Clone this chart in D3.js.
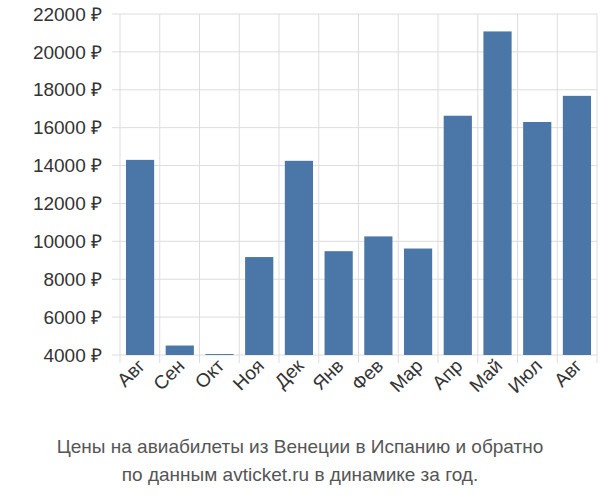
<!DOCTYPE html>
<html><head><meta charset="utf-8">
<script src="https://cdn.jsdelivr.net/npm/d3@7"></script>
<style>body{margin:0;background:#fff}</style></head>
<body><svg id="c" width="600" height="500"></svg>
<script>
const categories = ["Авг","Сен","Окт","Ноя","Дек","Янв","Фев","Мар","Апр","Май","Июл","Авг"];
const values = [14300,4500,4050,9170,14250,9480,10260,9620,16630,21080,16300,17680];
const yTicks = [4000,6000,8000,10000,12000,14000,16000,18000,20000,22000];
const titleLines = ["Цены на авиабилеты из Венеции в Испанию и обратно","по данным avticket.ru в динамике за год."];

const svg = d3.select("#c");
const L=120,R=597,T=14,B=355;
const x = d3.scaleBand().domain(d3.range(categories.length)).range([L,R]).paddingInner(0.29).paddingOuter(0.15);
const y = d3.scaleLinear().domain([4000,22000]).range([B,T]);
const font="Liberation Sans, Arial, sans-serif";
const g=svg.append("g");
// grid
g.selectAll("line.h").data(yTicks).join("line").attr("x1",L-8).attr("x2",R).attr("y1",d=>y(d)).attr("y2",d=>y(d)).attr("stroke","#ddd");
const step=x.step();
const vx=d3.range(categories.length+1).map(i=>L+i*(R-L)/categories.length);
g.selectAll("line.v").data(vx).join("line").attr("x1",d=>d).attr("x2",d=>d).attr("y1",T).attr("y2",B+8).attr("stroke","#ddd");
// bars
g.selectAll("rect").data(values).join("rect").attr("x",(d,i)=>x(i)).attr("width",x.bandwidth())
 .attr("y",d=>y(d)).attr("height",d=>B-y(d)).attr("fill","#4a76a8");
// y labels
g.selectAll("text.y").data(yTicks).join("text").attr("x",L-18).attr("y",d=>y(d)).attr("dy","0.35em")
 .attr("text-anchor","end").attr("font-family",font).attr("font-size",19).attr("fill","#333").text(d=>d+" ₽");
// x labels
g.selectAll("text.x").data(categories).join("text")
 .attr("transform",(d,i)=>`translate(${x(i)+x.bandwidth()/2+6},${B+12}) rotate(-45)`)
 .attr("text-anchor","end").attr("font-family",font).attr("font-size",19).attr("fill","#333").text(d=>d);
// title
svg.selectAll("text.t").data(titleLines).join("text").attr("x",300).attr("y",(d,i)=>453+i*28)
 .attr("text-anchor","middle").attr("font-family",font).attr("font-size",19).attr("fill","#555").text(d=>d);
</script></body></html>
